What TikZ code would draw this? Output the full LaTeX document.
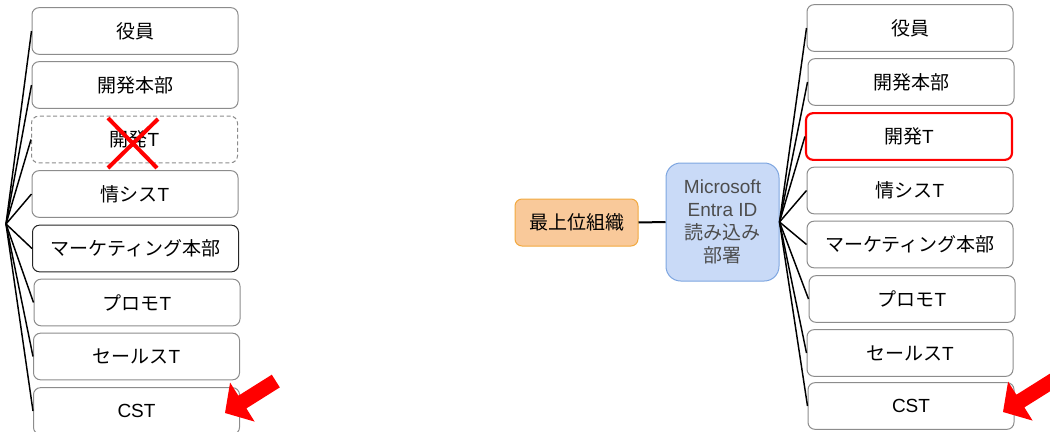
\documentclass[tikz,border=0pt]{standalone}
\usepackage{fontspec}
\setmainfont{Liberation Sans}
\newfontfamily\jp{Noto Sans CJK JP}
\definecolor{boxgray}{HTML}{8C8C8C}
\definecolor{orfill}{HTML}{F9C99A}
\definecolor{ordraw}{HTML}{F2A93F}
\definecolor{blfill}{HTML}{C9DAF7}
\definecolor{bldraw}{HTML}{7EA6E0}
\definecolor{txtgray}{HTML}{4D4D4D}
\definecolor{xred}{HTML}{FF0000}
\begin{document}
\begin{tikzpicture}[x=0.75pt,y=-0.75pt,
  lbl/.style={font=\fontsize{14.25}{17.25}\selectfont},
  unit/.style={lbl,draw=boxgray,line width=0.75pt,rounded corners=5.25pt,fill=white,
    minimum width=154.5pt,minimum height=35pt,inner sep=0pt,text=black},
  darkunit/.style={unit,draw=black!85},
  gone/.style={unit,dashed,dash pattern=on 3pt off 2pt},
  hilite/.style={unit,draw=xred,line width=1.6pt},
  link/.style={draw=black,line width=1.1pt},
  redarrow/.style={fill=xred,draw=none}]
\useasboundingbox (0,0) rectangle (1050,432);

% ---------- left column ----------
\coordinate (lroot) at (6,224);
\node[unit]     (L1) at (135,31)    {{\jp 役員}};
\node[unit]     (L2) at (135,85)    {{\jp 開発本部}};
\node[gone]     (L3) at (134.5,139.5) {{\jp 開発}T};
\node[unit]     (L4) at (135,194)   {{\jp 情シス}T};
\node[darkunit] (L5) at (135.5,248.5) {{\jp マーケティング本部}};
\node[unit]     (L6) at (137,302.5) {{\jp プロモ}T};
\node[unit]     (L7) at (136.5,356.5) {{\jp セールス}T};
\node[unit]     (L8) at (136.5,411) {CST};
\foreach \n in {L1,L2,L3,L4,L5,L6,L7,L8}
  \draw[link] (lroot) -- (\n.west);

% red cross over the removed team
\coordinate (xa) at (108,118);
\coordinate (xb) at (157,168);
\coordinate (xc) at (158,119);
\coordinate (xd) at (108,168);
\draw[xred,line width=3pt] (xa) -- (xb);
\draw[xred,line width=3pt] (xc) -- (xd);

% ---------- middle ----------
\node[lbl,draw=ordraw,fill=orfill,line width=0.75pt,rounded corners=5.25pt,
  minimum width=92.25pt,minimum height=35.25pt,inner sep=0pt] (top) at (576.5,222.5) {{\jp 最上位組織}};
\node[lbl,draw=bldraw,fill=blfill,line width=0.75pt,rounded corners=11pt,
  minimum width=84.75pt,minimum height=88.5pt,inner sep=0pt,align=center,text=txtgray]
  (entra) at (722.5,222) {Microsoft\\Entra ID\\{\jp 読み込み}\\{\jp 部署}};
\draw[link,line width=1.5pt] (top.east) -- (entra.west);

% ---------- right column ----------
\node[unit]   (R1) at (910,28)    {{\jp 役員}};
\node[unit]   (R2) at (911,82)    {{\jp 開発本部}};
\node[hilite] (R3) at (909,136.5) {{\jp 開発}T};
\node[unit]   (R4) at (910,190.5) {{\jp 情シス}T};
\node[unit]   (R5) at (910,244.5) {{\jp マーケティング本部}};
\node[unit]   (R6) at (912,299)   {{\jp プロモ}T};
\node[unit]   (R7) at (910,353)   {{\jp セールス}T};
\node[unit]   (R8) at (911,406)   {CST};
\foreach \n in {R1,R2,R3,R4,R5,R6,R7,R8}
  \draw[link] (entra.east) -- (\n.west);

% ---------- red block arrows ----------
\fill[redarrow] (225,413) -- (230.1,382.6) -- (238.4,395.7) -- (271.8,374.7)
  -- (279.8,387.4) -- (246.4,408.4) -- (254.6,421.6) -- cycle;
\fill[redarrow] (1003,412) -- (1008.1,381.6) -- (1016.4,394.7) -- (1058.3,368.4)
  -- (1066.3,381.1) -- (1024.4,407.4) -- (1032.6,420.6) -- cycle;
\end{tikzpicture}
\end{document}
